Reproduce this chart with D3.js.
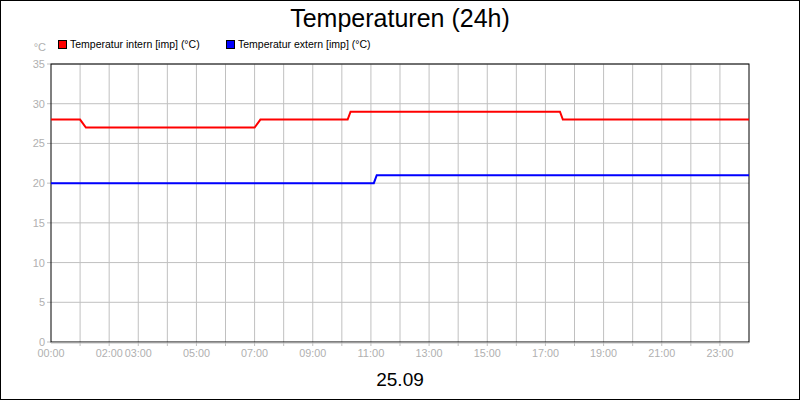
<!DOCTYPE html>
<html><head><meta charset="utf-8">
<script src="https://cdn.jsdelivr.net/npm/d3@7"></script>
<style>body{margin:0;background:#fff}svg{display:block;font-family:"Liberation Sans",Arial,sans-serif}</style>
</head><body><svg width="800" height="400"></svg>
<script>
// hours of day and temperature values (°C)
var internHours = [0, 1.0, 1.2, 7.0, 7.2, 10.2, 10.3, 17.5, 17.6, 24];
var internTemps = [28, 28, 27, 27, 28, 28, 29, 29, 28, 28];
var externHours = [0, 11.1, 11.2, 24];
var externTemps = [20, 20, 21, 21];
var yTicks = [0, 5, 10, 15, 20, 25, 30, 35];
var xLabelHours = [0, 2, 3, 5, 7, 9, 11, 13, 15, 17, 19, 21, 23];
var seriesNames = ["Temperatur intern [imp] (°C)", "Temperatur extern [imp] (°C)"];
var colors = ["#ff0000", "#0000ff"];

var svg = d3.select("svg");
var plotLeft = 51, plotRight = 749, plotTop = 64, plotBottom = 342;
var x = d3.scaleLinear().domain([0, 24]).range([plotLeft, plotRight]);
var y = d3.scaleLinear().domain([0, 35]).range([plotBottom, plotTop]);

svg.append("rect").attr("x", 0.5).attr("y", 0.5).attr("width", 799).attr("height", 399)
	.attr("fill", "#fff").attr("stroke", "#000");

// grid
svg.append("g").selectAll("line").data(d3.range(1, 24)).join("line")
	.attr("x1", d => x(d)).attr("x2", d => x(d)).attr("y1", plotTop).attr("y2", plotBottom + 4)
	.attr("stroke", "#c0c0c0");
svg.append("g").selectAll("line").data(yTicks.slice(1)).join("line")
	.attr("x1", plotLeft - 4).attr("x2", plotRight).attr("y1", d => y(d)).attr("y2", d => y(d))
	.attr("stroke", "#c0c0c0");
svg.append("line").attr("x1", plotLeft - 4).attr("x2", plotLeft).attr("y1", plotBottom).attr("y2", plotBottom).attr("stroke", "#c0c0c0");

svg.append("rect").attr("x", plotLeft).attr("y", plotTop).attr("width", plotRight - plotLeft).attr("height", plotBottom - plotTop)
	.attr("fill", "none").attr("stroke", "#000");
svg.append("line").attr("x1", plotLeft).attr("x2", plotRight).attr("y1", plotBottom + 1).attr("y2", plotBottom + 1).attr("stroke", "#c0c0c0");

svg.append("g").selectAll("text").data(yTicks).join("text")
	.attr("x", plotLeft - 6).attr("y", d => y(d) + 4).attr("text-anchor", "end")
	.attr("font-size", 11).attr("fill", "#b0b0b0").text(d => d);
svg.append("text").attr("x", 46).attr("y", 51).attr("text-anchor", "end")
	.attr("font-size", 11).attr("fill", "#b0b0b0").text("°C");

svg.append("g").selectAll("text").data(xLabelHours).join("text")
	.attr("x", d => x(d)).attr("y", 357).attr("text-anchor", "middle")
	.attr("font-size", 11).attr("fill", "#b0b0b0").attr("textLength", 27).attr("lengthAdjust", "spacingAndGlyphs")
	.text(d => d3.format("02")(d) + ":00");

var line = d3.line().x(d => x(d[0])).y(d => y(d[1]));
[[internHours, internTemps], [externHours, externTemps]].forEach(function(s, i) {
	svg.append("path").datum(d3.zip(s[0], s[1])).attr("d", line)
		.attr("fill", "none").attr("stroke", colors[i]).attr("stroke-width", 2);
});

// legend
var legX = [58, 226];
seriesNames.forEach(function(n, i) {
	svg.append("rect").attr("x", legX[i] + 0.5).attr("y", 40.5).attr("width", 8).attr("height", 8)
		.attr("fill", colors[i]).attr("stroke", "#000");
	svg.append("text").attr("x", legX[i] + 12).attr("y", 48).attr("font-size", 10.5).text(n);
});

svg.append("text").attr("x", 400).attr("y", 27).attr("text-anchor", "middle").attr("font-size", 25).text("Temperaturen (24h)");
svg.append("text").attr("x", 400).attr("y", 386).attr("text-anchor", "middle").attr("font-size", 19).text("25.09");
</script></body></html>
